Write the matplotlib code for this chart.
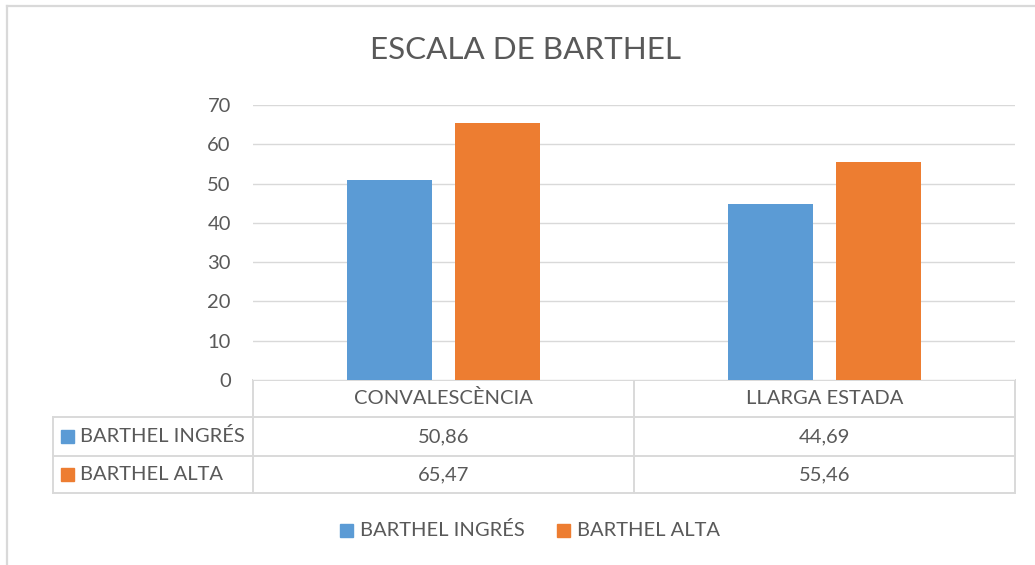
import numpy as np
import matplotlib
matplotlib.use('Agg')
import matplotlib.pyplot as plt
from matplotlib.patches import Rectangle

plt.rcParams['font.family'] = ['Lato', 'DejaVu Sans']

# data
title = 'ESCALA DE BARTHEL'
categories = ['CONVALESCÈNCIA', 'LLARGA ESTADA']
series_names = ['BARTHEL INGRÉS', 'BARTHEL ALTA']
ingres = [50.86, 44.69]
alta = [65.47, 55.46]
yticks = [0, 10, 20, 30, 40, 50, 60, 70]

blue = '#5B9BD5'
orange = '#ED7D31'
grey_txt = '#595959'
grid_col = '#D9D9D9'
fs = 14.5

W, H = 1035, 565
fig = plt.figure(figsize=(W / 100, H / 100), dpi=100)

# plot area in pixels
pl, pr, pt, pb = 253, 1015, 105, 380
ax = fig.add_axes([pl / W, 1 - pb / H, (pr - pl) / W, (pb - pt) / H])

x = np.arange(len(categories))
bw = 0.223
off = 0.1417
ax.bar(x - off, ingres, bw, color=blue, zorder=3)
ax.bar(x + off, alta, bw, color=orange, zorder=3)
ax.set_xlim(-0.5, len(categories) - 0.5)
ax.set_ylim(0, 70)
ax.set_yticks(yticks)
ax.set_yticklabels([str(t) for t in yticks], fontsize=fs, color=grey_txt)
ax.tick_params(axis='y', length=0, pad=16)
ax.set_xticks([])
for s in ax.spines.values():
    s.set_visible(False)
ax.yaxis.grid(True, color=grid_col, linewidth=1.0, zorder=0)
ax.set_axisbelow(True)

# overlay in pixel coordinates for the data table, frame, legend
ov = fig.add_axes([0, 0, 1, 1], zorder=-1)
ov.set_xlim(0, W)
ov.set_ylim(H, 0)
ov.axis('off')
ov.patch.set_alpha(0)

lw = 1.4
# chart frame
ov.plot([7, W], [6, 6], color=grid_col, lw=1.6)
ov.plot([7, 7], [6, H], color=grid_col, lw=1.6)

# table
rows = [380, 417, 456, 493]
ov.plot([pl, pr], [rows[0], rows[0]], color=grid_col, lw=lw)
for yy in rows[1:]:
    ov.plot([53, pr], [yy, yy], color=grid_col, lw=lw)
ov.plot([53, 53], [rows[1], rows[3]], color=grid_col, lw=lw)
colw = (pr - pl) / len(categories)
for i in range(len(categories) + 1):
    xx = pl + i * colw
    ov.plot([xx, xx], [rows[0], rows[3]], color=grid_col, lw=lw)

fmt = lambda v: ('%.2f' % v).replace('.', ',')
for i, cat in enumerate(categories):
    cx = pl + (i + 0.5) * colw
    ov.text(cx, (rows[0] + rows[1]) / 2, cat, ha='center', va='center',
            fontsize=fs, color=grey_txt)
    for r, vals in enumerate([ingres, alta]):
        ov.text(cx, (rows[r + 1] + rows[r + 2]) / 2, fmt(vals[i]),
                ha='center', va='center', fontsize=fs, color=grey_txt)

for r, (name, c) in enumerate(zip(series_names, [blue, orange])):
    cy = (rows[r + 1] + rows[r + 2]) / 2
    ov.add_patch(Rectangle((61, cy - 6.5), 13, 13, color=c))
    ov.text(80, cy, name, ha='left', va='center', fontsize=fs, color=grey_txt)

# legend
leg_y = 530
for lx, name, c in [(340, series_names[0], blue), (557, series_names[1], orange)]:
    ov.add_patch(Rectangle((lx, leg_y - 6.5), 13, 13, color=c))
    ov.text(lx + 20, leg_y, name, ha='left', va='center', fontsize=fs, color=grey_txt)

ov.text(526, 50, title, ha='center', va='center', fontsize=22.6, color=grey_txt)

fig.savefig('out.png', dpi=100, facecolor='white')
